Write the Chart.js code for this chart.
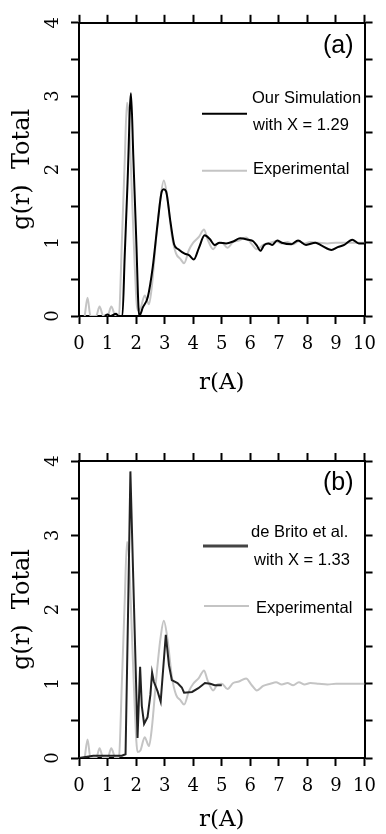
<!DOCTYPE html>
<html lang="en">
<head>
    <meta charset="UTF-8">
    <title>g(r) Total</title>
    <script src="https://cdn.jsdelivr.net/npm/chart.js"></script>
    <style>
        body { margin: 0; background: #fff; }
        .panel { position: relative; width: 386px; height: 417px; }
    </style>
</head>
<body>

    <div class="panel"><canvas id="chartA"></canvas></div>
    <div class="panel"><canvas id="chartB"></canvas></div>

    <script>
        // ** Data **
        let xTicks = [0, 1, 2, 3, 4, 5, 6, 7, 8, 9, 10];
        let yTicks = [0, 0.5, 1, 1.5, 2, 2.5, 3, 3.5, 4];
        let yTickLabels = ["0", "", "1", "", "2", "", "3", "", "4"];

        // experimental curve (same in both panels)
        let expR = [0.2, 0.3, 0.4, 0.6, 0.72, 0.85, 1.0, 1.13, 1.28, 1.4, 1.5, 1.6, 1.68, 1.75, 1.85, 1.95, 2.05, 2.15, 2.3, 2.45,
                    2.55, 2.7, 2.85, 2.97, 3.1, 3.25, 3.4, 3.55, 3.68, 3.85, 4.0, 4.2, 4.38, 4.5, 4.7, 4.85, 5.0, 5.2, 5.4, 5.6,
                    5.85, 6.05, 6.23, 6.45, 6.7, 6.9, 7.1, 7.3, 7.5, 7.7, 7.9, 8.1, 8.4, 8.7, 9.0, 9.5, 10.0];
        let expG = [0, 0.25, 0, 0, 0.13, 0, 0, 0.13, 0, 0.02, 1.0, 2.1, 2.91, 2.7, 1.7, 0.7, 0.08, 0.1, 0.28, 0.16,
                    0.4, 1.05, 1.6, 1.85, 1.6, 1.1, 0.85, 0.78, 0.72, 0.9, 1.0, 1.08, 1.18, 1.05, 0.91, 0.99, 1.0, 0.93, 1.01, 1.03,
                    1.07, 0.98, 0.91, 0.97, 1.0, 1.02, 0.99, 1.01, 0.98, 1.02, 0.99, 1.01, 1.0, 0.99, 1.0, 1.0, 1.0];

        // (a) our simulation, X = 1.29
        let simAR = [0.9, 1.0, 1.1, 1.3, 1.38, 1.52, 1.6, 1.7, 1.82, 1.9, 2.0, 2.11, 2.24, 2.41, 2.58, 2.75, 2.9, 2.97, 3.05, 3.2,
                     3.33, 3.48, 3.7, 3.85, 4.02, 4.2, 4.4, 4.58, 4.75, 4.92, 5.15, 5.42, 5.64, 5.93, 6.1, 6.23, 6.35, 6.49, 6.63, 6.77,
                     6.94, 7.1, 7.44, 7.67, 7.95, 8.28, 8.5, 8.84, 9.06, 9.29, 9.57, 9.8, 10.0];
        let simAG = [0, 0.02, 0, 0.03, 0, 0, 0.81, 1.82, 3.04, 2.2, 1.1, 0, 0.12, 0.26, 0.66, 1.25, 1.70, 1.73, 1.70, 1.29,
                     0.98, 0.91, 0.85, 0.83, 0.77, 0.93, 1.10, 1.05, 0.97, 1.0, 0.99, 1.02, 1.06, 1.04, 1.02, 0.96, 0.89, 0.97, 0.99, 0.97,
                     1.03, 1.0, 0.98, 1.03, 0.97, 1.0, 0.96, 0.90, 0.94, 0.97, 1.04, 0.99, 0.99];

        // (b) de Brito et al., X = 1.33
        let simBR = [0, 0.5, 1.0, 1.5, 1.63, 1.72, 1.8, 1.9, 2.05, 2.14, 2.2, 2.28, 2.4, 2.5, 2.56, 2.62, 2.75, 2.86, 3.04, 3.15,
                     3.25, 3.45, 3.6, 3.68, 3.96, 4.18, 4.41, 4.6, 4.75, 5.0];
        let simBG = [0, 0.03, 0.03, 0.03, 0.05, 2.0, 3.86, 2.42, 0.27, 1.23, 0.7, 0.46, 0.55, 0.85, 1.15, 1.03, 0.9, 0.76, 1.66, 1.25,
                     1.05, 1.01, 0.95, 0.88, 0.89, 0.94, 1.01, 1.0, 0.98, 0.98];

        let legendA = ["Our Simulation", "with X = 1.29"];
        let legendB = ["de Brito et al.", "with X = 1.33"];
        let expLabel = "Experimental";

        const toPts = (rs, gs) => rs.map((r, i) => ({ x: r, y: gs[i] }));
        const serif = "DejaVu Serif";

        // legend lines + panel tag, drawn inside the plot box
        const panelDecor = {
            id: "panelDecor",
            afterDatasetsDraw(chart, args, o) {
                const { ctx, chartArea: a } = chart;
                ctx.save();
                ctx.fillStyle = "#000";
                ctx.textBaseline = "middle";
                ctx.font = '25px "Liberation Sans"';
                ctx.textAlign = "right";
                ctx.fillText(o.tag, a.right - 11, a.top + o.tagY);
                ctx.font = '16.5px "Liberation Sans"';
                ctx.textAlign = "left";
                o.entries.forEach(e => {
                    ctx.strokeStyle = e.color;
                    ctx.lineWidth = e.width;
                    ctx.beginPath();
                    ctx.moveTo(a.left + e.x0, a.top + e.lineY);
                    ctx.lineTo(a.left + e.x0 + 45, a.top + e.lineY);
                    ctx.stroke();
                    e.text.forEach((t, i) => ctx.fillText(t, a.left + e.tx[i], a.top + e.ty[i]));
                });
                ctx.restore();
            }
        };

        function makeChart(id, sim, simColor, smooth, p) {
            const tickSide = {
                drawOnChartArea: false, tickLength: 8, tickWidth: 2, color: "#000"
            };
            new Chart(document.getElementById(id), {
                type: "line",
                data: {
                    datasets: [
                        { data: sim, borderColor: simColor, borderWidth: 2, pointRadius: 0,
                          cubicInterpolationMode: smooth ? "monotone" : "default", tension: 0 },
                        { data: toPts(expR, expG), borderColor: "#c4c4c4", borderWidth: 2, pointRadius: 0,
                          cubicInterpolationMode: "monotone" }
                    ]
                },
                options: {
                    responsive: true,
                    maintainAspectRatio: false,
                    animation: false,
                    layout: { padding: { top: p.padTop, right: 2, left: 0, bottom: 0 } },
                    plugins: {
                        legend: { display: false },
                        tooltip: { enabled: false },
                        panelDecor: p.decor
                    },
                    scales: {
                        x: {
                            type: "linear", position: "bottom", min: 0, max: 10,
                            afterBuildTicks: s => { s.ticks = xTicks.map(v => ({ value: v })); },
                            ticks: { color: "#000", font: { family: serif, size: 18 }, padding: 10, maxRotation: 0, autoSkip: false },
                            grid: tickSide,
                            border: { color: "#000", width: 2 },
                            title: { display: true, text: "r(A)", color: "#000", font: { family: serif, size: 23 },
                                     padding: { top: 0, bottom: p.titlePad } },
                            afterFit: s => { s.height = p.bottomH; }
                        },
                        xTop: {
                            type: "linear", position: "top", min: 0, max: 10,
                            afterBuildTicks: s => { s.ticks = xTicks.map(v => ({ value: v })); },
                            ticks: { display: false },
                            grid: tickSide,
                            border: { color: "#000", width: 2 },
                            afterFit: s => { s.height = 8; }
                        },
                        y: {
                            type: "linear", position: "left", min: 0, max: 4,
                            afterBuildTicks: s => { s.ticks = yTicks.map(v => ({ value: v })); },
                            ticks: { color: "#000", font: { family: serif, size: 18 }, padding: 12,
                                     minRotation: 90, maxRotation: 90, crossAlign: "center",
                                     callback: (v, i) => yTickLabels[i] },
                            grid: tickSide,
                            border: { color: "#000", width: 2 },
                            title: { display: true, text: "g(r)  Total", color: "#000", font: { family: serif, size: 24 },
                                     padding: { top: 8, bottom: 0 } },
                            afterFit: s => { s.width = 79; }
                        },
                        yRight: {
                            type: "linear", position: "right", min: 0, max: 4,
                            afterBuildTicks: s => { s.ticks = yTicks.map(v => ({ value: v })); },
                            ticks: { display: false },
                            grid: tickSide,
                            border: { color: "#000", width: 2 },
                            afterFit: s => { s.width = 8; }
                        }
                    }
                },
                plugins: [panelDecor]
            });
        }

        makeChart("chartA", toPts(simAR, simAG), "#000", true, {
            padTop: 11, bottomH: 101, titlePad: 20,
            decor: {
                tag: "(a)", tagY: 23,
                entries: [
                    { color: "#000", width: 2, x0: 123, lineY: 91, text: legendA, tx: [173, 174], ty: [76, 103] },
                    { color: "#c4c4c4", width: 2, x0: 123, lineY: 148, text: [expLabel], tx: [174], ty: [147] }
                ]
            }
        });

        makeChart("chartB", toPts(simBR, simBG), "#222", false, {
            padTop: 36, bottomH: 76, titlePad: 0,
            decor: {
                tag: "(b)", tagY: 22,
                entries: [
                    { color: "#444", width: 3, x0: 124, lineY: 85, text: legendB, tx: [172, 175], ty: [71, 99] },
                    { color: "#c4c4c4", width: 2, x0: 125, lineY: 145, text: [expLabel], tx: [177], ty: [147] }
                ]
            }
        });
    </script>

</body>
</html>
